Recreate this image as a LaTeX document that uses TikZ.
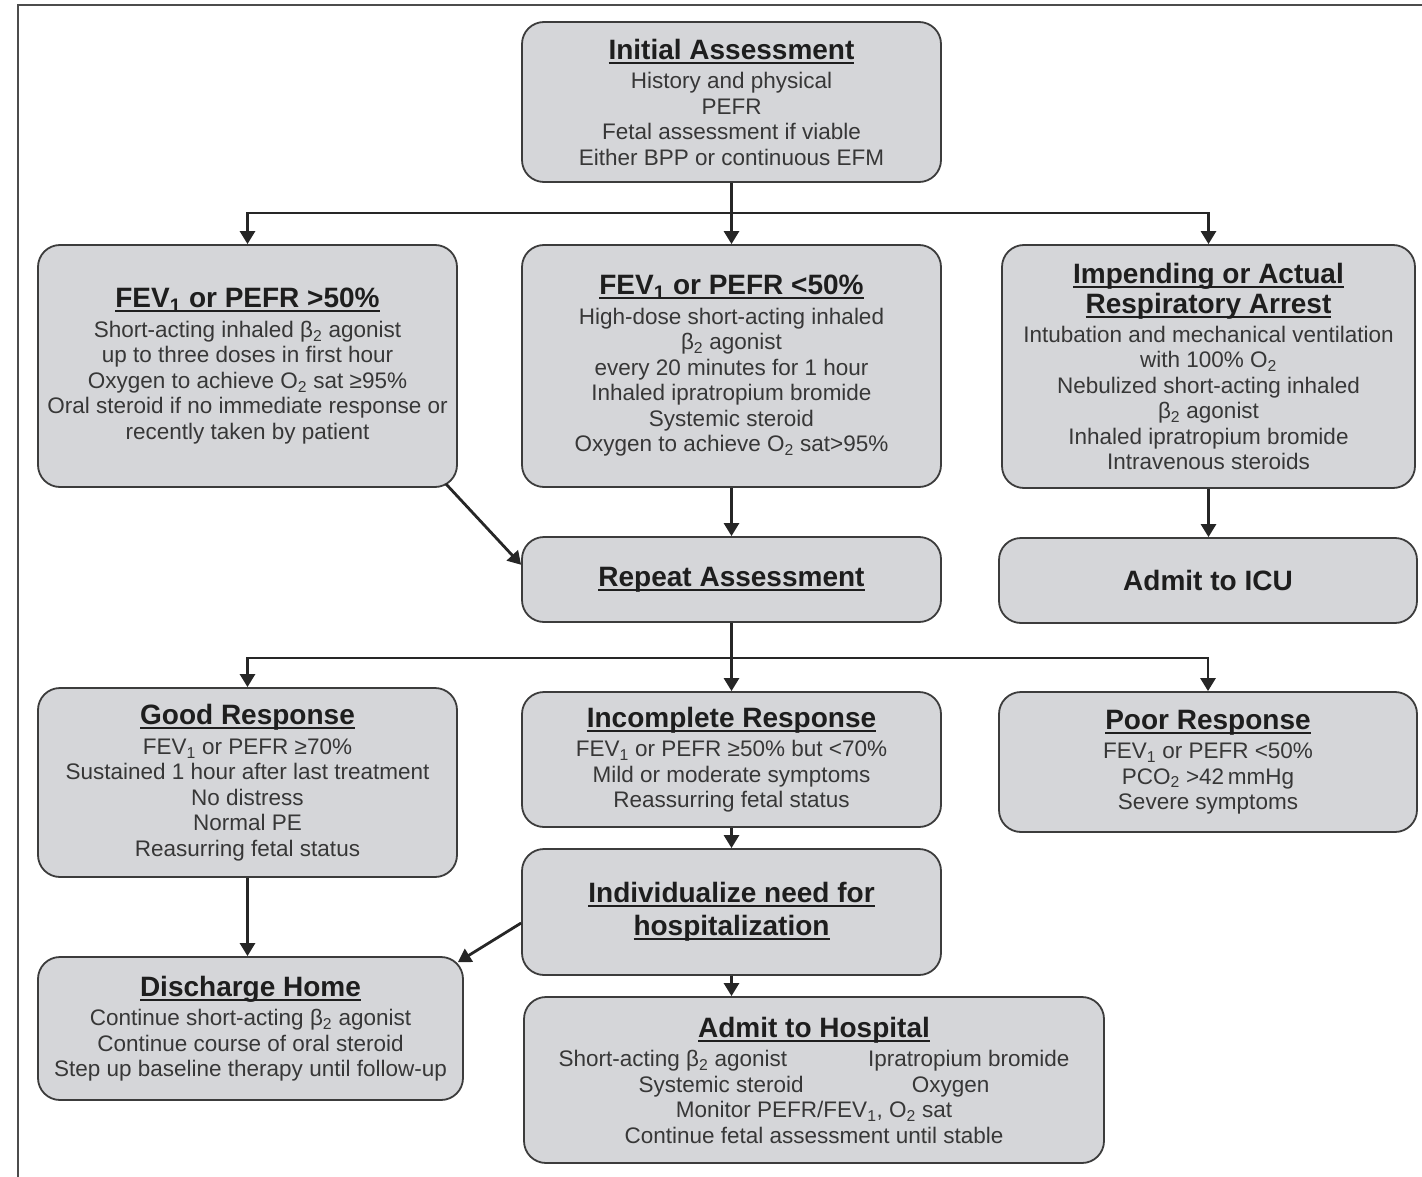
\documentclass[tikz,border=0pt]{standalone}
\usepackage{fontspec}
\setmainfont{Liberation Sans}
\usetikzlibrary{arrows.meta,calc}
\definecolor{boxfill}{RGB}{213,214,217}
\definecolor{boxline}{RGB}{60,60,60}
\definecolor{bodytext}{RGB}{55,55,55}
\definecolor{headtext}{RGB}{30,30,30}
\newsavebox{\hdbox}
\newcommand{\hd}[1]{{\fontsize{28}{30}\selectfont\bfseries\color{headtext}%
  \sbox{\hdbox}{#1}\rlap{\rule[-4.5pt]{\wd\hdbox}{2pt}}\usebox{\hdbox}}}
\newcommand{\hdn}[1]{{\fontsize{28}{30}\selectfont\bfseries\color{headtext}#1}}
\newcommand{\subs}[1]{\textsubscript{#1}}
\begin{document}
\begin{tikzpicture}[x=1pt,y=-1pt,
  box/.style={draw=boxline, line width=1.8pt, fill=boxfill, rounded corners=22pt,
    align=center, inner sep=0pt, text=bodytext, font=\fontsize{22.5}{25.5}\selectfont},
  conn/.style={draw=black!85, line width=2.8pt, -{Triangle[width=15pt,length=13pt]}},
  frame/.style={draw=black!70, line width=2pt}]
\useasboundingbox (0,0) rectangle (1422,1177);
\draw[frame] (1422,5) -- (18,5) -- (18,1177);

\node[box, minimum width=419pt, minimum height=160pt] (init) at (731.5,102)
 {\hd{Initial Assessment}\\[4pt]
  History and physical\\
  PEFR\\
  Fetal assessment if viable\\
  Either BPP or continuous EFM};

\node[box, minimum width=419pt, minimum height=242pt] (fevhi) at (247.5,366)
 {\hd{FEV\subs{1} or PEFR >50\%}\\[4pt]
  Short-acting inhaled β\subs{2} agonist\\
  up to three doses in first hour\\
  Oxygen to achieve O\subs{2} sat ≥95\%\\
  Oral steroid if no immediate response or\\
  recently taken by patient};

\node[box, minimum width=419pt, minimum height=242pt] (fevlo) at (731.5,366)
 {\hd{FEV\subs{1} or PEFR <50\%}\\[4pt]
  High-dose short-acting inhaled\\
  β\subs{2} agonist\\
  every 20 minutes for 1 hour\\
  Inhaled ipratropium bromide\\
  Systemic steroid\\
  Oxygen to achieve O\subs{2} sat>95\%};

\node[box, minimum width=413pt, minimum height=243pt] (imp) at (1208.5,366.5)
 {\hd{Impending or Actual}\\[3pt]
  \hd{Respiratory Arrest}\\[3pt]
  Intubation and mechanical ventilation\\
  with 100\% O\subs{2}\\
  Nebulized short-acting inhaled\\
  β\subs{2} agonist\\
  Inhaled ipratropium bromide\\
  Intravenous steroids};

\node[box, minimum width=419pt, minimum height=85pt] (rep) at (731.5,579.5)
 {\hd{Repeat Assessment}};

\node[box, minimum width=418pt, minimum height=85pt] (icu) at (1208,580.5)
 {\hdn{Admit to ICU}};

\node[box, minimum width=419pt, minimum height=189pt] (good) at (247.5,782.5)
 {\hd{Good Response}\\[4.5pt]
  FEV\subs{1} or PEFR ≥70\%\\
  Sustained 1 hour after last treatment\\
  No distress\\
  Normal PE\\
  Reasurring fetal status};

\node[box, minimum width=419pt, minimum height=135pt] (inc) at (731.5,759.5)
 {\hd{Incomplete Response}\\[4pt]
  FEV\subs{1} or PEFR ≥50\% but <70\%\\
  Mild or moderate symptoms\\
  Reassurring fetal status};

\node[box, minimum width=418pt, minimum height=140pt] (poor) at (1208,762)
 {\hd{Poor Response}\\[4pt]
  FEV\subs{1} or PEFR <50\%\\
  PCO\subs{2} >42\,mmHg\\
  Severe symptoms};

\node[box, minimum width=419pt, minimum height=126pt] (ind) at (731.5,912)
 {\hd{Individualize need for}\\[7pt]
  \hd{hospitalization}};

\node[box, minimum width=425pt, minimum height=143pt] (dis) at (250.5,1028.5)
 {\hd{Discharge Home}\\[4pt]
  Continue short-acting β\subs{2} agonist\\
  Continue course of oral steroid\\
  Step up baseline therapy until follow-up};

\node[box, minimum width=580pt, minimum height=166pt] (hosp) at (814,1080)
 {\hd{Admit to Hospital}\\[4pt]
  Short-acting β\subs{2} agonist\hspace{81pt}Ipratropium bromide\\
  Systemic steroid\hspace{108pt}Oxygen\\
  Monitor PEFR/FEV\subs{1}, O\subs{2} sat\\
  Continue fetal assessment until stable};

\coordinate (bus1) at (731.5,213);
\coordinate (bus2) at (731.5,658);

\draw[conn] (init.south) -- (fevlo.north);
\draw[conn] (bus1) -| (fevhi.north);
\draw[conn] (bus1) -| (imp.north);

\draw[conn] ($(fevhi.south east)+(-12,-4)$) -- (rep.176.6);
\draw[conn] (fevlo.south) -- (rep.north);
\draw[conn] (imp.south) -- (imp.south |- icu.north);

\draw[conn] (rep.south) -- (inc.north);
\draw[conn] (bus2) -| (good.north);
\draw[conn] (bus2) -| (poor.north);

\draw[conn] (inc.south) -- (ind.north);
\draw[conn] (good.south) -- (good.south |- dis.north);
\draw[conn] (ind.183) -- ($(dis.north east)+(-6,6)$);
\draw[conn] (ind.south) -- (ind.south |- hosp.north);
\end{tikzpicture}
\end{document}
